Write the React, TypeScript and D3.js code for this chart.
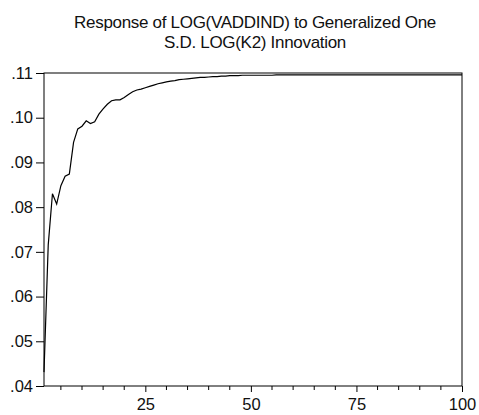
import { useEffect, useRef } from "react";
import * as d3 from "d3";

// impulse response, periods 1..100
const periods: number[] = Array.from({ length: 100 }, (_, i) => i + 1);
const response: number[] = [
  0.0431, 0.0715, 0.083, 0.0807, 0.0848, 0.0869, 0.0874, 0.0945, 0.0975, 0.0981,
  0.0993, 0.0987, 0.0991, 0.1008, 0.102, 0.103, 0.1038, 0.104, 0.104, 0.1045,
  0.1052, 0.1058, 0.1062, 0.1064, 0.1067, 0.107, 0.1073, 0.1076, 0.1078, 0.108,
  0.1082, 0.1083, 0.1085, 0.1086, 0.1087, 0.1088, 0.1089, 0.109, 0.109, 0.1091,
  0.1092, 0.1092, 0.1093, 0.1093, 0.1094, 0.1094, 0.1094, 0.1095, 0.1095, 0.1095,
  0.1095, 0.1095, 0.1095, 0.1095, 0.1095, 0.1096, 0.1096, 0.1096, 0.1096, 0.1096,
  0.1096, 0.1096, 0.1096, 0.1096, 0.1096, 0.1096, 0.1096, 0.1096, 0.1096, 0.1096,
  0.1096, 0.1096, 0.1096, 0.1096, 0.1096, 0.1096, 0.1096, 0.1096, 0.1096, 0.1096,
  0.1096, 0.1096, 0.1096, 0.1096, 0.1096, 0.1096, 0.1096, 0.1096, 0.1096, 0.1096,
  0.1096, 0.1096, 0.1096, 0.1096, 0.1096, 0.1096, 0.1096, 0.1096, 0.1096, 0.1096,
];
const yTicks: number[] = [0.04, 0.05, 0.06, 0.07, 0.08, 0.09, 0.1, 0.11];
const xMajor: number[] = [25, 50, 75, 100];
const xMinor: number[] = [5, 10, 15, 20, 30, 35, 40, 45, 55, 60, 65, 70, 80, 85, 90, 95];
const titleLines: string[] = [
  "Response of LOG(VADDIND) to Generalized One",
  "S.D. LOG(K2) Innovation",
];

const width = 479;
const height = 415;
const margin = { top: 73, right: 17, bottom: 29, left: 44 };
const font = "'Liberation Sans', Arial, sans-serif";

const App = () => {
  const svgRef = useRef<SVGSVGElement>(null);

  useEffect(() => {
    const svg = d3.select(svgRef.current);
    svg.selectAll("*").remove();
    const innerWidth = width - margin.left - margin.right;
    const innerHeight = height - margin.top - margin.bottom;

    const x = d3.scaleLinear().domain([1, 100]).range([0, innerWidth]);
    const y = d3.scaleLinear().domain([0.04, 0.11]).range([innerHeight, 0]);

    svg
      .selectAll("text.title")
      .data(titleLines)
      .enter()
      .append("text")
      .attr("class", "title")
      .attr("x", 255)
      .attr("y", (d, i) => 28 + i * 20)
      .attr("text-anchor", "middle")
      .style("font-family", font)
      .style("font-size", "17px")
      .style("letter-spacing", "-0.3px")
      .attr("fill", "#111")
      .text((d) => d);

    const g = svg
      .append("g")
      .attr("transform", `translate(${margin.left},${margin.top})`);

    // frame
    g.append("rect")
      .attr("x", 0)
      .attr("y", 0)
      .attr("width", innerWidth)
      .attr("height", innerHeight)
      .attr("fill", "none")
      .attr("stroke", "#000")
      .attr("stroke-width", 1);

    const yAxis = d3
      .axisLeft(y)
      .tickValues(yTicks)
      .tickSize(8)
      .tickPadding(3)
      .tickFormat((d) => d3.format(".2f")(d as number).replace(/^0/, ""));
    const ya = g.append("g").call(yAxis);
    ya.select(".domain").remove();
    ya.selectAll("text")
      .style("font-family", font)
      .style("font-size", "16.5px")
      .attr("fill", "#111");

    const xAxis = d3
      .axisBottom(x)
      .tickValues(xMajor)
      .tickSize(6)
      .tickPadding(6)
      .tickFormat((d) => String(d));
    const xa = g.append("g").attr("transform", `translate(0,${innerHeight})`).call(xAxis);
    xa.select(".domain").remove();
    xa.selectAll("text")
      .style("font-family", font)
      .style("font-size", "16.5px")
      .attr("fill", "#111");

    g.append("g")
      .selectAll("line")
      .data(xMinor)
      .enter()
      .append("line")
      .attr("x1", (d) => x(d))
      .attr("x2", (d) => x(d))
      .attr("y1", innerHeight)
      .attr("y2", innerHeight + 4)
      .attr("stroke", "#000");

    const line = d3
      .line<number>()
      .x((d, i) => x(periods[i]))
      .y((d) => y(d));
    g.append("path")
      .datum(response)
      .attr("d", line)
      .attr("fill", "none")
      .attr("stroke", "#000")
      .attr("stroke-width", 1.2);
  }, []);

  return (
    <svg
      ref={svgRef}
      width={width}
      height={height}
      style={{ position: "absolute", left: 0, top: 0, background: "#fff" }}
    ></svg>
  );
};

export default App;
